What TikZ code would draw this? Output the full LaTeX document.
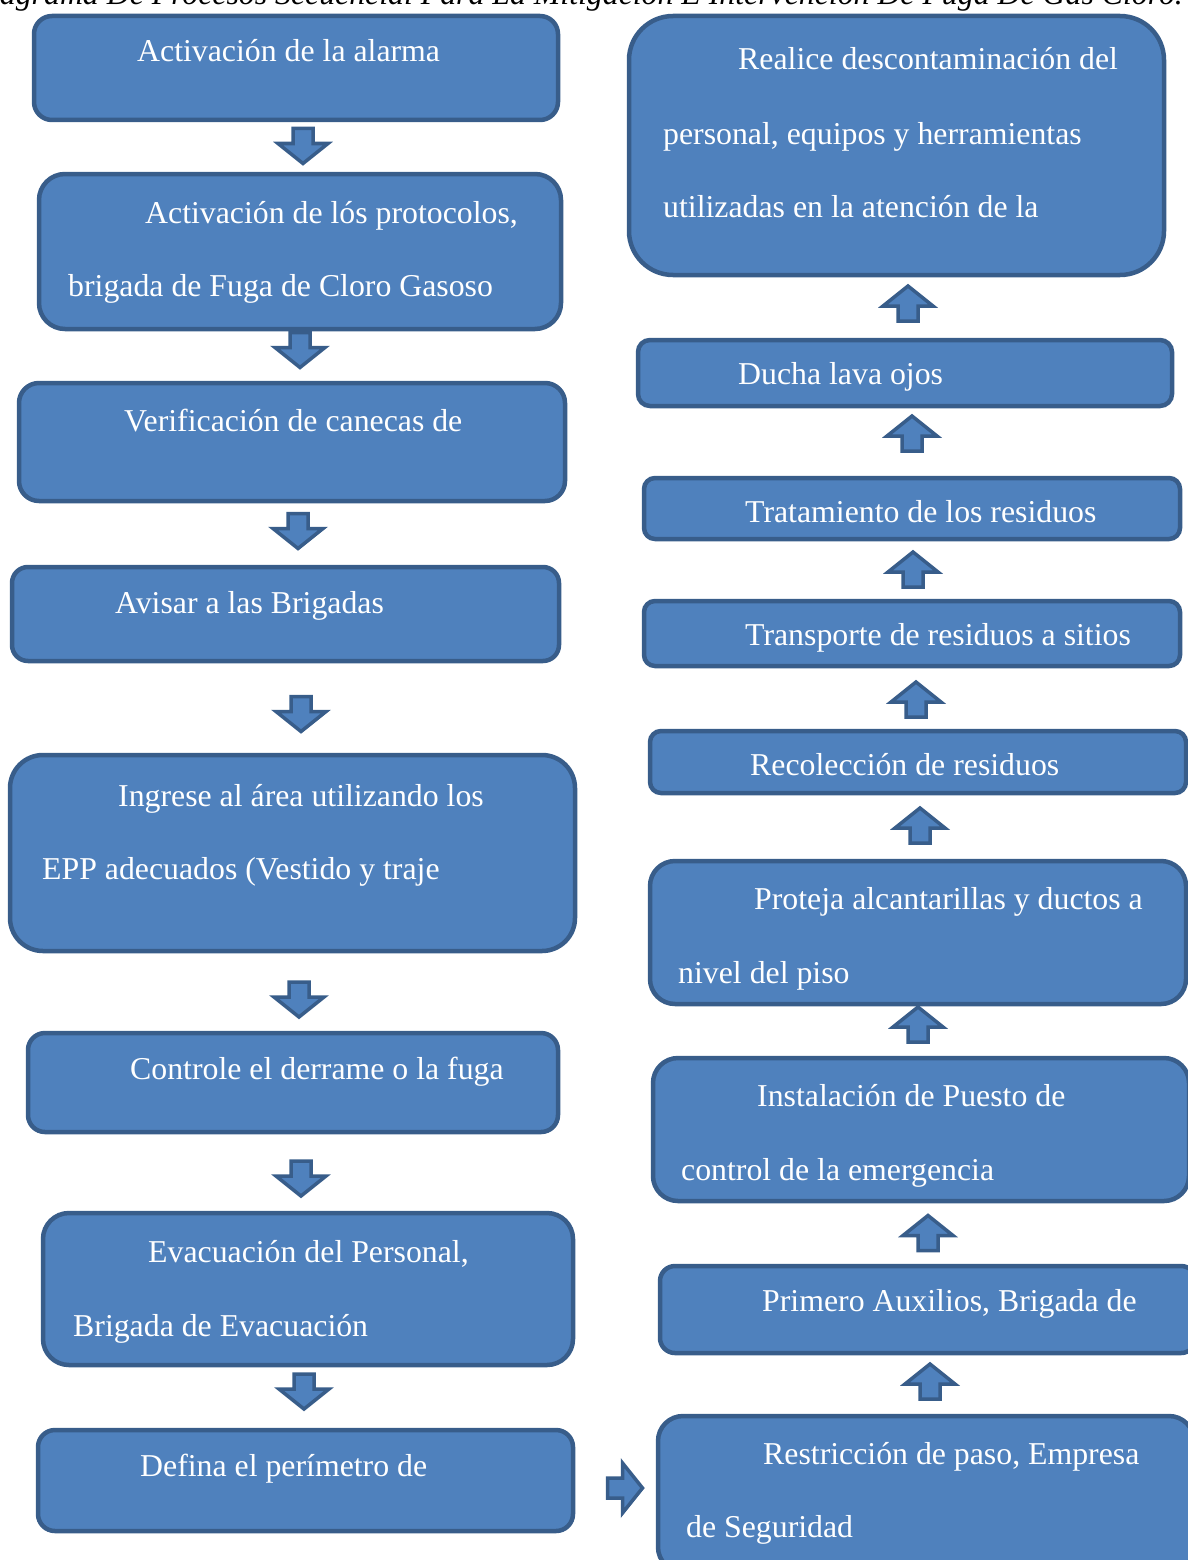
\documentclass[tikz,border=0pt]{standalone}
\usepackage{fontspec}
\setmainfont{Liberation Serif}
\usepackage{tikz}

\definecolor{azulcaja}{HTML}{4F81BD}
\definecolor{bordecaja}{HTML}{385D8A}

\tikzset{
  caja/.style={draw=bordecaja, fill=azulcaja, line width=4.5pt, inner sep=0pt},
  linea/.style={anchor=base west, text=white, inner sep=0pt, font=\fontsize{31.8}{38}\selectfont},
  flecha/.style={draw=bordecaja, fill=azulcaja, line width=3.5pt, line join=miter}
}
% block arrow at a named coordinate, pointing down when rotated by 0
\newcommand{\bloqueflecha}[2]{%
  \draw[flecha, shift={(#1)}, rotate=#2] (-10,-17.5) -- (10,-17.5) -- (10,-2.5) -- (25,-2.5)
    -- (0,17.5) -- (-25,-2.5) -- (-10,-2.5) -- cycle;}

\begin{document}
\begin{tikzpicture}[x=1pt,y=-1pt]
\useasboundingbox (0,0) rectangle (1187,1560);

\node[anchor=base east, inner sep=0pt, font=\fontsize{31.8}{38}\selectfont\itshape] (titulo) at (1183,5)
  {Diagrama De Procesos Secuencial Para La Mitigación E Intervención De Fuga De Gas Cloro.};

% left column
\node[caja, minimum width=524pt, minimum height=104pt, rounded corners=18pt] (L1) at (296,68) {};
\node[caja, minimum width=522pt, minimum height=155pt, rounded corners=26pt] (L2) at (300,251.5) {};
\node[caja, minimum width=546pt, minimum height=118pt, rounded corners=20pt] (L3) at (292,442) {};
\node[caja, minimum width=547pt, minimum height=94pt, rounded corners=16pt] (L4) at (285.5,614) {};
\node[caja, minimum width=565pt, minimum height=196pt, rounded corners=33pt] (L5) at (292.5,853) {};
\node[caja, minimum width=530pt, minimum height=99pt, rounded corners=17pt] (L6) at (293,1082.5) {};
\node[caja, minimum width=530pt, minimum height=152pt, rounded corners=26pt] (L7) at (308,1289) {};
\node[caja, minimum width=535pt, minimum height=101pt, rounded corners=17pt] (L8) at (305.5,1480.5) {};

\node[linea] (tL1) at (137,62) {Activación de la alarma};
\node[linea] (tL2a) at (145,223) {Activación de lós protocolos,};
\node[linea] (tL2b) at (68,296) {brigada de Fuga de Cloro Gasoso};
\node[linea] (tL3) at (124,431) {Verificación de canecas de};
\node[linea] (tL4) at (115,613) {Avisar a las Brigadas};
\node[linea] (tL5a) at (118,806) {Ingrese al área utilizando los};
\node[linea] (tL5b) at (42,879) {EPP adecuados (Vestido y traje};
\node[linea] (tL6) at (130,1079) {Controle el derrame o la fuga};
\node[linea] (tL7a) at (148,1262) {Evacuación del Personal,};
\node[linea] (tL7b) at (73,1336) {Brigada de Evacuación};
\node[linea] (tL8) at (140,1476) {Defina el perímetro de};

% right column
\node[caja, minimum width=535pt, minimum height=259pt, rounded corners=44pt] (R1) at (896.5,145.5) {};
\node[caja, minimum width=534pt, minimum height=66pt, rounded corners=12pt] (R2) at (905,373) {};
\node[caja, minimum width=536pt, minimum height=61pt, rounded corners=11pt] (R3) at (912,508.5) {};
\node[caja, minimum width=536pt, minimum height=65pt, rounded corners=11pt] (R4) at (912,633.5) {};
\node[caja, minimum width=536pt, minimum height=62pt, rounded corners=11pt] (R5) at (918,762) {};
\node[caja, minimum width=536pt, minimum height=143pt, rounded corners=25pt] (R6) at (918,932.5) {};
\node[caja, minimum width=536pt, minimum height=143pt, rounded corners=25pt] (R7) at (921,1129.5) {};
\node[caja, minimum width=536pt, minimum height=87pt, rounded corners=15pt] (R8) at (928,1309.5) {};
\node[caja, minimum width=536pt, minimum height=156pt, rounded corners=25pt] (R9) at (926,1494) {};

\node[linea] (tR1a) at (738,70) {Realice descontaminación del};
\node[linea] (tR1b) at (663,144) {personal, equipos y herramientas};
\node[linea] (tR1c) at (663,217) {utilizadas en la atención de la};
\node[linea] (tR2) at (738,384) {Ducha lava ojos};
\node[linea] (tR3) at (745,522) {Tratamiento de los residuos};
\node[linea] (tR4) at (745,645) {Transporte de residuos a sitios};
\node[linea] (tR5) at (750,775) {Recolección de residuos};
\node[linea] (tR6a) at (754,909) {Proteja alcantarillas y ductos a};
\node[linea] (tR6b) at (678,983) {nivel del piso};
\node[linea] (tR7a) at (757,1106) {Instalación de Puesto de};
\node[linea] (tR7b) at (681,1180) {control de la emergencia};
\node[linea] (tR8) at (762,1311) {Primero Auxilios, Brigada de};
\node[linea] (tR9a) at (763,1464) {Restricción de paso, Empresa};
\node[linea] (tR9b) at (686,1537) {de Seguridad};

% arrows
\coordinate (f1) at (303,146);
\coordinate (f2) at (300,350);
\coordinate (f3) at (298,531);
\coordinate (f4) at (301,714);
\coordinate (f5) at (299,999.5);
\coordinate (f6) at (301,1178.5);
\coordinate (f7) at (304,1391.5);
\coordinate (f8) at (625,1488);
\coordinate (f9) at (930,1381.5);
\coordinate (f10) at (928,1233);
\coordinate (f11) at (918,1024.5);
\coordinate (f12) at (920,825.5);
\coordinate (f13) at (916,699.5);
\coordinate (f14) at (913,569.5);
\coordinate (f15) at (912,433.5);
\coordinate (f16) at (908,303.5);

\foreach \f in {f1,f2,f3,f4,f5,f6,f7} {\bloqueflecha{\f}{0}}
\bloqueflecha{f8}{90}
\foreach \f in {f9,f10,f11,f12,f13,f14,f15,f16} {\bloqueflecha{\f}{180}}
\end{tikzpicture}
\end{document}
